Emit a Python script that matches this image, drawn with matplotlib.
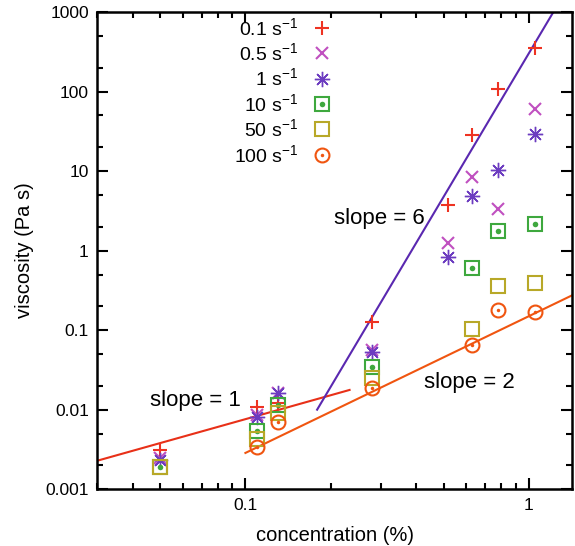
import numpy as np
import matplotlib
matplotlib.use('Agg')
import matplotlib.pyplot as plt
from matplotlib.ticker import LogLocator, NullFormatter, FixedLocator, FixedFormatter

plt.rcParams['font.family'] = ['Liberation Sans', 'DejaVu Sans']
plt.rcParams['mathtext.default'] = 'regular'

# concentrations (%)
conc = [0.05, 0.11, 0.13, 0.28, 0.52, 0.63, 0.78, 1.05]

# viscosity (Pa s) per shear rate, None = no point
v_01 = [0.0031, 0.0108, 0.0122, 0.127, 3.7, 28.4, 107, 352]
v_05 = [0.00245, 0.0085, 0.0162, 0.057, 1.25, 8.5, 3.3, 60]
v_1 = [0.0023, 0.0081, 0.0163, 0.053, 0.82, 4.8, 10.2, 29.5]
v_10 = [0.0019, 0.0054, 0.0115, 0.034, None, 0.60, 1.76, 2.15]
v_50 = [0.0019, 0.0043, 0.0092, 0.025, None, 0.104, 0.36, 0.39]
v_100 = [None, 0.0034, 0.0069, 0.0186, None, 0.066, 0.177, 0.169]

labels = ['0.1 s$^{-1}$', '0.5 s$^{-1}$', '1 s$^{-1}$', '10 s$^{-1}$', '50 s$^{-1}$', '100 s$^{-1}$']
colors = ['#ee3322', '#c050c0', '#6c3cc0', '#3ea83e', '#b8a828', '#f05510']

# guide lines: prefactor, exponent, x range
fit_1 = (0.076, 1.0, 0.03, 0.233)
fit_2 = (0.150, 1.72, 0.1, 1.45)
fit_6 = (0.01 / 0.179**6, 6.0, 0.179, 1.25)


def pts(vals):
    x = [c for c, v in zip(conc, vals) if v is not None]
    y = [v for v in vals if v is not None]
    return x, y


fig = plt.figure(figsize=(5.75, 5.46), dpi=100)
ax = fig.add_axes([0.169, 0.104, 0.826, 0.874])
ax.set_xscale('log')
ax.set_yscale('log')
ax.set_xlim(0.03, 1.42)
ax.set_ylim(0.001, 1000)

# guide lines
for (a, n, x0, x1), col in [(fit_1, '#e83018'), (fit_2, '#f05510'), (fit_6, '#5a28b0')]:
    xx = np.array([x0, x1])
    ax.plot(xx, a * xx**n, color=col, lw=1.5)

handles = []
x, y = pts(v_01)
h, = ax.plot(x, y, ls='none', marker='+', ms=10, mew=1.5, color=colors[0])
handles.append(h)
x, y = pts(v_05)
h, = ax.plot(x, y, ls='none', marker='x', ms=9, mew=1.5, color=colors[1])
handles.append(h)
x, y = pts(v_1)
h, = ax.plot(x, y, ls='none', marker=(8, 2, 0), ms=11, mew=1.0, color=colors[2])
handles.append(h)
x, y = pts(v_10)
h1, = ax.plot(x, y, ls='none', marker='s', ms=10, mew=1.5, mfc='none', color=colors[3])
h2, = ax.plot(x, y, ls='none', marker='o', ms=4, mew=0, color=colors[3])
handles.append((h1, h2))
x, y = pts(v_50)
h, = ax.plot(x, y, ls='none', marker='s', ms=10, mew=1.5, mfc='none', color=colors[4])
handles.append(h)
x, y = pts(v_100)
h1, = ax.plot(x, y, ls='none', marker='o', ms=10, mew=1.5, mfc='none', color=colors[5])
h2, = ax.plot(x, y, ls='none', marker='o', ms=2.5, mew=0, color=colors[5])
handles.append((h1, h2))

ax.legend(handles, labels, loc='upper right', bbox_to_anchor=(0.497, 0.99),
          frameon=False, markerfirst=False, fontsize=14, handlelength=1.2,
          handletextpad=0.6, labelspacing=0.18, borderpad=0, borderaxespad=0)

# slope annotations
ax.text(0.0665, 0.0132, 'slope = 1', fontsize=16, ha='center', va='center')
ax.text(0.614, 0.0222, 'slope = 2', fontsize=16, ha='center', va='center')
ax.text(0.297, 2.56, 'slope = 6', fontsize=16, ha='center', va='center')

# axes styling (gnuplot-like)
for s in ax.spines.values():
    s.set_linewidth(1.8)
ax.xaxis.set_major_locator(FixedLocator([0.1, 1]))
ax.xaxis.set_major_formatter(FixedFormatter(['0.1', '1']))
ax.xaxis.set_minor_locator(LogLocator(base=10, subs=np.arange(2, 10)))
ax.xaxis.set_minor_formatter(NullFormatter())
yt = [0.001, 0.01, 0.1, 1, 10, 100, 1000]
ax.yaxis.set_major_locator(FixedLocator(yt))
ax.yaxis.set_major_formatter(FixedFormatter(['0.001', '0.01', '0.1', '1', '10', '100', '1000']))
ax.yaxis.set_minor_locator(LogLocator(base=10, subs=[2, 5]))
ax.yaxis.set_minor_formatter(NullFormatter())
ax.tick_params(which='both', direction='in', top=True, right=True, width=1.5, labelsize=12.5)
ax.tick_params(which='major', length=8, pad=6)
ax.tick_params(which='minor', length=4)

ax.set_xlabel('concentration (%)', fontsize=14.5, labelpad=10)
ax.set_ylabel('viscosity (Pa s)', fontsize=14.5, labelpad=8)

fig.savefig('out.png', dpi=100)
